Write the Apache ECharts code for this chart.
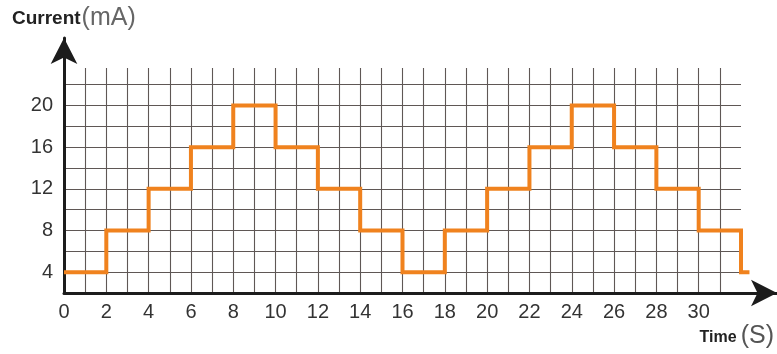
<!DOCTYPE html>
<html>
<head>
<meta charset="utf-8">
<script src="https://cdn.jsdelivr.net/npm/echarts@6/dist/echarts.min.js"></script>
<style>
  html, body { margin: 0; padding: 0; background: #fff; }
  #chart { width: 777px; height: 354px; }
</style>
</head>
<body>
<div id="chart"></div>
<script>
// Step current profile: time (s) at which each level starts, and the level (mA)
const times    = [0, 2, 4, 6, 8, 10, 12, 14, 16, 18, 20, 22, 24, 26, 28, 30, 32, 32.4];
const currents = [4, 8, 12, 16, 20, 16, 12, 8, 4, 8, 12, 16, 20, 16, 12, 8, 4, 4];

// Axis ranges and tick spacing of the gridded area
const xRange = [0, 32];
const yRange = [2, 23.6];
const xStep = 1;
const yStep = 2;

// Layout (px)
const W = 777, H = 354;
const plot  = { left: 64, right: 36, top: 68, bottom: 61 };   // gridded area
const outer = { left: 64, right: 0,  top: 38, bottom: 61 };   // axes with arrow heads

// The arrowed axes reach past the gridded area; extend their ranges with the same scale
const plotW = W - plot.left - plot.right, plotH = H - plot.top - plot.bottom;
const outerW = W - outer.left - outer.right, outerH = H - outer.top - outer.bottom;
const xOuterMax = xRange[0] + (xRange[1] - xRange[0]) * outerW / plotW;
const yOuterMax = yRange[0] + (yRange[1] - yRange[0]) * outerH / plotH;

const FONT = '"Liberation Sans", Arial, sans-serif';
const gridColor = '#5f5755';
const axisColor = '#1c1c1c';
const stepColor = '#f0821e';

const chart = echarts.init(document.getElementById('chart'), null, { renderer: 'canvas' });

chart.setOption({
  animation: false,
  backgroundColor: '#fff',
  grid: [
    Object.assign({}, plot),
    Object.assign({}, outer)
  ],
  xAxis: [
    {
      gridIndex: 0, type: 'value', min: xRange[0], max: xRange[1], interval: xStep,
      axisLine: { show: false }, axisTick: { show: false },
      splitLine: { show: true, showMinLine: false, showMaxLine: false,
                   lineStyle: { color: gridColor, width: 1.1 } },
      axisLabel: {
        margin: 9, color: '#333', fontFamily: FONT, fontSize: 20,
        showMaxLabel: false,
        formatter: v => (v % 2 === 0 && v < xRange[1]) ? String(v) : ''
      }
    },
    {
      gridIndex: 1, type: 'value', min: xRange[0], max: xOuterMax,
      axisLine: { show: true, symbol: ['none', 'arrow'], symbolSize: [20, 26],
                  lineStyle: { color: axisColor, width: 3 } },
      axisTick: { show: false }, axisLabel: { show: false }, splitLine: { show: false }
    }
  ],
  yAxis: [
    {
      gridIndex: 0, type: 'value', min: yRange[0], max: yRange[1], interval: yStep,
      axisLine: { show: false }, axisTick: { show: false },
      splitLine: { show: true, showMinLine: false, showMaxLine: false,
                   lineStyle: { color: gridColor, width: 1.1 } },
      axisLabel: {
        margin: 11, color: '#333', fontFamily: FONT, fontSize: 20,
        showMaxLabel: false,
        formatter: v => (v % 4 === 0) ? String(v) : ''
      }
    },
    {
      gridIndex: 1, type: 'value', min: yRange[0], max: yOuterMax,
      axisLine: { show: true, symbol: ['none', 'arrow'], symbolSize: [20, 26],
                  lineStyle: { color: axisColor, width: 3 } },
      axisTick: { show: false }, axisLabel: { show: false }, splitLine: { show: false }
    }
  ],
  graphic: [
    {
      type: 'text', left: 12, top: 6,
      style: {
        text: '{a|Current}{b|(mA)}',
        rich: {
          a: { fontFamily: FONT, fontSize: 19, fontWeight: 'bold', fill: '#222', verticalAlign: 'bottom', padding: [0, 1, 3, 0] },
          b: { fontFamily: FONT, fontSize: 25, fill: '#666', verticalAlign: 'bottom' }
        }
      }
    },
    {
      type: 'text', right: 3, top: 324,
      style: {
        text: '{a|Time}{b|(S)}',
        rich: {
          a: { fontFamily: FONT, fontSize: 16, fontWeight: 'bold', fill: '#222', verticalAlign: 'bottom', padding: [0, 4, 3, 0] },
          b: { fontFamily: FONT, fontSize: 25, fill: '#555', verticalAlign: 'bottom' }
        }
      }
    }
  ],
  series: [
    {
      type: 'line',
      xAxisIndex: 1, yAxisIndex: 1,
      step: 'end',
      showSymbol: false,
      z: 3,
      lineStyle: { color: stepColor, width: 4, join: 'miter' },
      data: times.map((t, i) => [t, currents[i]])
    }
  ]
});
</script>
</body>
</html>
